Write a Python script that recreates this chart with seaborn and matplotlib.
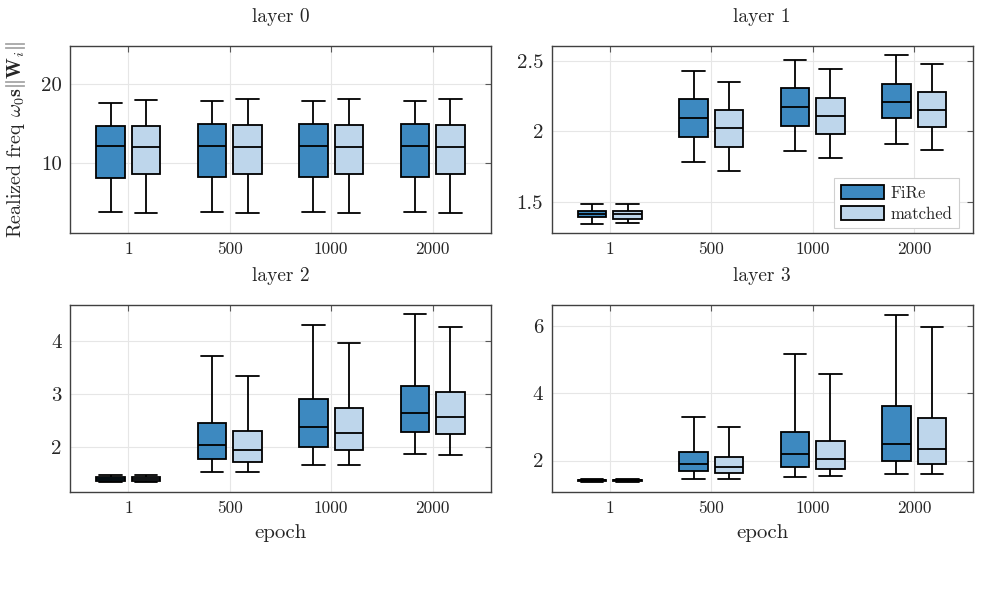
import numpy as np
import pandas as pd
import seaborn as sns
import matplotlib.pyplot as plt
from matplotlib.ticker import FixedLocator, FormatStrFormatter

# categories
epochs = ['1', '500', '1000', '2000']
methods = ['FiRe', 'matched']
layer_titles = ['layer 0', 'layer 1', 'layer 2', 'layer 3']

# five-number summaries: [lower whisker, Q1, median, Q3, upper whisker]
l0_fire = [[3.8, 8.14, 12.2, 14.7, 17.6], [3.8, 8.2, 12.2, 14.9, 17.8],
           [3.8, 8.2, 12.2, 14.9, 17.8], [3.8, 8.2, 12.2, 14.9, 17.8]]
l0_matched = [[3.67, 8.57, 12.06, 14.65, 18.0], [3.67, 8.6, 12.06, 14.75, 18.1],
              [3.67, 8.6, 12.06, 14.75, 18.15], [3.67, 8.6, 12.06, 14.75, 18.15]]

l1_fire = [[1.34, 1.388, 1.41, 1.433, 1.48], [1.78, 1.96, 2.093, 2.23, 2.43],
           [1.86, 2.04, 2.17, 2.31, 2.51], [1.91, 2.093, 2.21, 2.34, 2.54]]
l1_matched = [[1.35, 1.38, 1.41, 1.435, 1.48], [1.72, 1.89, 2.024, 2.152, 2.35],
              [1.81, 1.98, 2.11, 2.24, 2.443], [1.87, 2.03, 2.152, 2.283, 2.48]]

l2_fire = [[1.35, 1.375, 1.41, 1.45, 1.48], [1.545, 1.775, 2.05, 2.46, 3.71],
           [1.66, 2.01, 2.374, 2.90, 4.30], [1.88, 2.29, 2.65, 3.15, 4.50]]
l2_matched = [[1.35, 1.375, 1.41, 1.45, 1.48], [1.545, 1.725, 1.95, 2.30, 3.345],
              [1.66, 1.95, 2.26, 2.73, 3.96], [1.85, 2.25, 2.57, 3.03, 4.255]]

l3_fire = [[1.36, 1.39, 1.41, 1.43, 1.46], [1.46, 1.675, 1.91, 2.24, 3.30],
           [1.51, 1.81, 2.19, 2.86, 5.17], [1.60, 1.98, 2.50, 3.62, 6.35]]
l3_matched = [[1.36, 1.39, 1.41, 1.43, 1.46], [1.46, 1.625, 1.81, 2.09, 3.01],
              [1.53, 1.745, 2.05, 2.59, 4.57], [1.605, 1.89, 2.35, 3.26, 5.99]]

layers = [(l0_fire, l0_matched), (l1_fire, l1_matched),
          (l2_fire, l2_matched), (l3_fire, l3_matched)]

# axis settings
ylims = [(1.1, 24.8), (1.274, 2.607), (1.16, 4.68), (1.06, 6.65)]
yticks = [[10, 20], [1.5, 2, 2.5], [2, 3, 4], [2, 4, 6]]

palette = {'FiRe': '#3d89c0', 'matched': '#bed6eb'}

sns.set_style('white')
plt.rcParams['font.family'] = ['cmr10', 'DejaVu Serif']
plt.rcParams['mathtext.fontset'] = 'cm'
plt.rcParams['axes.formatter.use_mathtext'] = True

fig, axes = plt.subplots(2, 2, figsize=(9.81, 5.99), dpi=100)
fig.subplots_adjust(left=0.0714, right=0.9918, top=0.9232, bottom=0.1786,
                    wspace=0.1425, hspace=0.38)

for i, ax in enumerate(axes.flat):
    fire, matched = layers[i]
    rows = []
    for e, f_stats, m_stats in zip(epochs, fire, matched):
        for v in f_stats:
            rows.append({'epoch': e, 'method': 'FiRe', 'value': v})
        for v in m_stats:
            rows.append({'epoch': e, 'method': 'matched', 'value': v})
    df = pd.DataFrame(rows)

    sns.boxplot(data=df, x='epoch', y='value', hue='method', order=epochs,
                hue_order=methods, palette=palette, saturation=1,
                width=0.7, gap=0.2, whis=(0, 100), linecolor='black',
                linewidth=1.3, capwidths=0.22, ax=ax, legend=(i == 1))

    ax.set_xlim(-0.575, 3.58)
    ax.set_ylim(*ylims[i])
    ax.yaxis.set_major_locator(FixedLocator(yticks[i]))
    ax.yaxis.set_major_formatter(FormatStrFormatter('%g'))
    ax.grid(True, color='#e6e6e6', linewidth=0.8)
    ax.set_axisbelow(True)
    ax.tick_params(direction='in', top=True, right=True, length=4,
                   color='0.35', width=0.8, pad=6)
    ax.tick_params(axis='x', labelsize=12.5)
    ax.tick_params(axis='y', labelsize=15)
    for sp in ax.spines.values():
        sp.set_color('0.25')
        sp.set_linewidth(1.0)
    ax.set_title(layer_titles[i], fontsize=14, pad=17)
    ax.set_ylabel('')
    if i >= 2:
        ax.set_xlabel('epoch', fontsize=15)
        ax.xaxis.set_label_coords(0.5, -0.17)
    else:
        ax.set_xlabel('')

axes[0, 0].set_ylabel(r'Realized freq $\omega_0\mathbf{s}\|\mathbf{W}_i\|$', fontsize=14.5)
axes[0, 0].yaxis.set_label_coords(-0.1, 0.5)

leg = axes[0, 1].legend(loc='lower right', bbox_to_anchor=(0.967, 0.027),
                        borderaxespad=0, fontsize=12, frameon=True,
                        fancybox=False, edgecolor='#d0d0d0', framealpha=1,
                        borderpad=0.4, handlelength=2.6, handleheight=0.95,
                        labelspacing=0.3, handletextpad=0.4)
leg.get_frame().set_linewidth(0.8)

plt.savefig('out.png', dpi=100)
